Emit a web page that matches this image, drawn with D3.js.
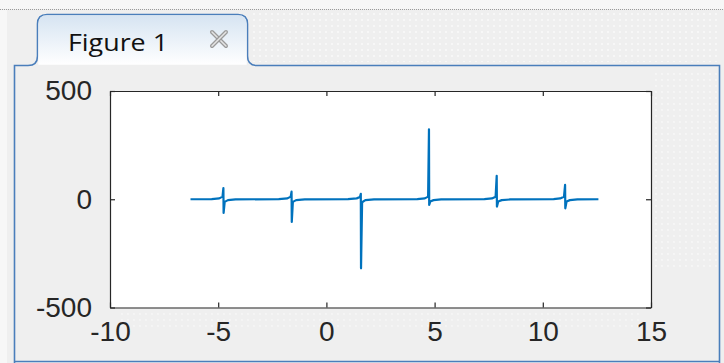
<!DOCTYPE html>
<html>
<head>
<meta charset="utf-8">
<script src="https://cdn.jsdelivr.net/npm/d3@7"></script>
<style>
  html, body { margin: 0; padding: 0; background: #f0f0f0; }
  svg { display: block; }
</style>
</head>
<body>
<svg id="fig" width="724" height="363"></svg>
<script>
const seriesX = [-6.28, -5.3, -4.95, -4.80, -4.76, -4.75, -4.70, -4.55, -4.2,
  -2.2, -1.8, -1.65, -1.61, -1.60, -1.55, -1.40, -1.0,
  1.0, 1.40, 1.55, 1.59, 1.60, 1.65, 1.8, 2.2,
  4.2, 4.55, 4.70, 4.74, 4.75, 4.80, 4.95, 5.3,
  7.3, 7.65, 7.82, 7.87, 7.88, 7.94, 8.1, 8.5,
  10.5, 10.8, 10.98, 11.03, 11.04, 11.10, 11.25, 11.6, 12.57];
const seriesY = [0, 1, 4, 12, 52, -63, -12, -4, -1,
  1, 4, 12, 35, -105, -12, -4, -1,
  1, 4, 10, 25, -319, -14, -4, -1,
  1, 4, 12, 323, -26, -10, -4, -1,
  1, 4, 12, 108, -34, -10, -4, -1,
  1, 4, 12, 66, -42, -10, -4, -1, 0];
const xTicks = [-10, -5, 0, 5, 10, 15];
const yTicks = [-500, 0, 500];
const tabTitle = 'Figure 1';

const svg = d3.select('#fig');
const W = 724, H = 363;

// background + dotted texture
const defs = svg.append('defs');
const pat = defs.append('pattern').attr('id', 'dots').attr('width', 6).attr('height', 6).attr('patternUnits', 'userSpaceOnUse');
pat.append('circle').attr('cx', 2).attr('cy', 2).attr('r', 0.9).attr('fill', '#ffffff');
const grad = defs.append('linearGradient').attr('id', 'tabfill').attr('x1', 0).attr('y1', 0).attr('x2', 0).attr('y2', 1);
grad.append('stop').attr('offset', '0%').attr('stop-color', '#d6e4f2');
grad.append('stop').attr('offset', '100%').attr('stop-color', '#ffffff');

svg.append('rect').attr('width', W).attr('height', H).attr('fill', '#efefef');
svg.append('rect').attr('width', W).attr('height', 9).attr('fill', '#f7f7f7');
svg.append('line').attr('x1', 0).attr('x2', W).attr('y1', 9.5).attr('y2', 9.5)
  .attr('stroke', '#9a9a9a').attr('stroke-dasharray', '1 1');
svg.append('rect').attr('x', 250).attr('y', 12).attr('width', 470).attr('height', 50).attr('fill', 'url(#dots)').attr('opacity', 0.7);
svg.append('rect').attr('x', 655).attr('y', 70).attr('width', 62).attr('height', 200).attr('fill', 'url(#dots)').attr('opacity', 0.6);
svg.append('rect').attr('x', 120).attr('y', 312).attr('width', 520).attr('height', 18).attr('fill', 'url(#dots)').attr('opacity', 0.5);
svg.append('rect').attr('x', 0).attr('y', 10).attr('width', 7).attr('height', H).attr('fill', '#f7f7f7');

// panel + tab outline
const blue = '#4a7ebb';
svg.append('path')
  .attr('d', 'M14.5,363 L14.5,65.5 L28,65.5 Q37.5,65.5 37.5,56 L37.5,24 Q37.5,14.5 47,14.5 L238,14.5 Q247.5,14.5 247.5,24 L247.5,56 Q247.5,65.5 257,65.5 L719.5,65.5 L719.5,363')
  .attr('fill', 'none').attr('stroke', blue).attr('stroke-width', 1.6);
svg.append('path')
  .attr('d', 'M38.3,64.7 L38.3,24 Q38.3,15.3 47,15.3 L238,15.3 Q246.7,15.3 246.7,24 L246.7,64.7 Z')
  .attr('fill', 'url(#tabfill)');
svg.append('line').attr('x1', 14.5).attr('x2', 719.5).attr('y1', 361.5).attr('y2', 361.5)
  .attr('stroke', blue).attr('stroke-width', 1.4);
svg.append('text').attr('x', 68).attr('y', 51).text(tabTitle)
  .attr('font-family', 'Open Sans, sans-serif').attr('font-size', 24)
  .attr('textLength', 100).attr('lengthAdjust', 'spacingAndGlyphs').attr('fill', '#111');
const cx = 219, cy = 39;
[[-7, -7, 7, 7], [-7, 7, 7, -7]].forEach(([a, b, c, d]) => {
  svg.append('line').attr('x1', cx + a).attr('y1', cy + b).attr('x2', cx + c).attr('y2', cy + d)
    .attr('stroke', '#9a9a9a').attr('stroke-width', 4).attr('stroke-linecap', 'round');
  svg.append('line').attr('x1', cx + a).attr('y1', cy + b).attr('x2', cx + c).attr('y2', cy + d)
    .attr('stroke', '#e4e4e4').attr('stroke-width', 1.5).attr('stroke-linecap', 'round');
});

// axes
const ax = { left: 110, right: 651, top: 91, bottom: 307.5 };
const x = d3.scaleLinear().domain([-10, 15]).range([ax.left, ax.right]);
const y = d3.scaleLinear().domain([-500, 500]).range([ax.bottom, ax.top]);

svg.append('rect').attr('x', ax.left).attr('y', ax.top)
  .attr('width', ax.right - ax.left).attr('height', ax.bottom - ax.top).attr('fill', '#fff');

const pts = seriesX.map((v, i) => [v, seriesY[i]]);
const line = d3.line().x(d => x(d[0])).y(d => y(d[1]));
svg.append('path').datum(pts).attr('d', line)
  .attr('fill', 'none').attr('stroke', '#0072bd').attr('stroke-width', 2.2)
  .attr('stroke-linejoin', 'round');

const tickLen = 5;
const fmt = d => String(d);
const fontAxis = 'Liberation Sans, Arial, sans-serif';
const xb = svg.append('g').attr('transform', `translate(0,${ax.bottom})`)
  .call(d3.axisBottom(x).tickValues(xTicks).tickFormat(fmt).tickSizeInner(-tickLen).tickSizeOuter(0).tickPadding(14));
const xt = svg.append('g').attr('transform', `translate(0,${ax.top})`)
  .call(d3.axisTop(x).tickValues(xTicks).tickSizeInner(-tickLen).tickSizeOuter(0).tickFormat(''));
const yl = svg.append('g').attr('transform', `translate(${ax.left},0)`)
  .call(d3.axisLeft(y).tickValues(yTicks).tickFormat(fmt).tickSizeInner(-tickLen).tickSizeOuter(0).tickPadding(18));
const yr = svg.append('g').attr('transform', `translate(${ax.right},0)`)
  .call(d3.axisRight(y).tickValues(yTicks).tickSizeInner(-tickLen).tickSizeOuter(0).tickFormat(''));
[xb, xt, yl, yr].forEach(g => {
  g.selectAll('path.domain').attr('stroke', '#262626').attr('stroke-width', 1.2);
  g.selectAll('line').attr('stroke', '#262626').attr('stroke-width', 1.2);
  g.selectAll('text').attr('fill', '#262626').attr('font-family', fontAxis).attr('font-size', 28);
});
xb.selectAll('text').attr('dy', '0.71em');
</script>
</body>
</html>
